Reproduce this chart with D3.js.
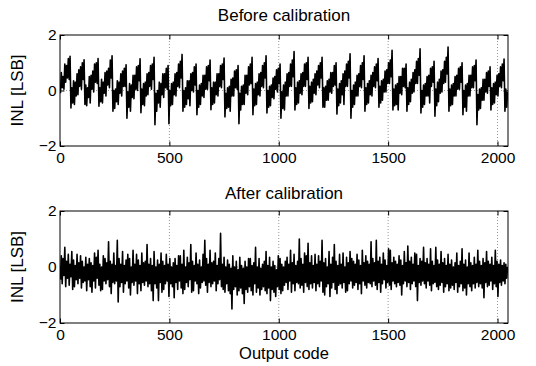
<!DOCTYPE html>
<html>
<head>
<meta charset="utf-8">
<script src="https://cdn.jsdelivr.net/npm/d3@7"></script>
<style>
  body { margin: 0; background: #fff; }
  text { font-family: "Liberation Sans", Arial, Helvetica, sans-serif; fill: #000; }
</style>
</head>
<body>
<svg id="chart" width="536" height="366"></svg>
<script>
const BIN = 8;
const xTicks = [0, 500, 1000, 1500, 2000];
const yTicks = [-2, 0, 2];
const titles = ["Before calibration", "After calibration"];
const yLabel = "INL [LSB]";
const xLabel = "Output code";

const beforeLo = [
  -0.1, 0.1, 0.05, 0.3, 0.45, 0.4,
  -0.63, -0.45, -0.5, -0.2, -0.15, 0.15, 0.05, 0.4,
  -0.5, -0.55, -0.25, -0.45, 0.05, -0.05, 0.3, 0.25,
  -0.57, -0.4, -0.45, -0.1, -0.2, 0.2, 0.1, 0.45,
  -0.75, -0.65, -0.4, -0.5, -0.1, -0.2, 0.15, 0.15,
  -1.0, -0.6, -0.75, -0.25, -0.3, 0.05, 0.0, 0.35,
  -0.8, -0.5, -0.55, -0.2, -0.15, 0.15, 0.05, 0.4,
  -1.23, -0.75, -0.45, -0.6, -0.15, -0.25, 0.1, 0.05,
  -1.2, -0.55, -0.5, -0.15, -0.2, 0.15, 0.1, 0.45,
  -0.75, -0.6, -0.5, -0.3, -0.55, 0.0, -0.05, 0.2,
  -0.87, -0.6, -0.5, -0.2, -0.25, 0.05, 0.05, 0.35,
  -0.69, -0.5, -0.45, -0.15, -0.2, 0.15, 0.1, 0.4,
  -0.95, -0.65, -0.6, -0.75, -0.2, -0.2, 0.1, 0.05,
  -1.2, -0.7, -0.5, -0.5, -0.1, -0.15, 0.2, 0.25,
  -0.87, -0.55, -0.5, -0.15, -0.2, 0.15, 0.1, 0.45,
  -0.81, -0.6, -0.55, -0.25, -0.3, 0.05, -0.05, 0.25,
  -1.0, -0.65, -0.7, -0.2, -0.2, 0.15, 0.15, 0.5,
  -0.7, -0.5, -0.45, -0.1, -0.15, 0.15, 0.15, 0.4,
  -0.65, -0.45, -0.4, -0.1, -0.15, 0.2, 0.1, 0.45,
  -0.6, -0.6, -0.35, -0.35, -0.05, -0.1, 0.15, 0.2,
  -0.85, -0.55, -0.45, -0.15, -0.5, 0.15, 0.15, 0.45,
  -1.0, -0.6, -0.5, -0.2, -0.2, 0.15, 0.1, 0.4,
  -0.75, -0.5, -0.45, -0.15, -0.2, 0.15, 0.1, 0.35,
  -0.6, -0.45, -0.35, -0.05, -0.05, 0.25, 0.25, 0.5,
  -0.7, -0.55, -0.5, -0.7, -0.1, -0.15, 0.15, 0.1,
  -0.75, -0.5, -0.4, -0.1, -0.05, 0.25, 0.25, 0.55,
  -0.81, -0.6, -0.5, -0.2, -0.2, -0.45, 0.15, 0.3,
  -0.93, -0.55, -0.4, -0.1, -0.05, 0.25, 0.3, 0.6,
  -0.75, -0.55, -0.5, -0.2, -0.2, 0.05, 0.05, 0.3,
  -0.87, -0.6, -0.75, -0.2, -0.2, 0.1, 0.1, 0.35,
  -1.23, -0.7, -0.65, -0.35, -0.35, -0.05, -0.1, 0.15,
  -0.7, -0.5, -0.45, -0.15, -0.2, 0.15, 0.1, 0.35,
  -0.75, -0.6
];
const beforeHi = [
  0.65, 0.5, 0.95, 0.9, 1.15, 1.23,
  0.1, 0.35, 0.3, 0.6, 0.75, 0.85, 1.0, 1.11,
  0.2, 0.1, 0.5, 0.55, 0.7, 0.95, 1.0, 1.15,
  0.1, 0.4, 0.3, 0.65, 0.7, 0.8, 1.1, 1.25,
  0.0, 0.05, 0.35, 0.3, 0.6, 0.7, 0.8, 0.93,
  -0.05, 0.25, 0.2, 0.55, 0.55, 0.85, 0.9, 1.14,
  0.05, 0.25, 0.3, 0.6, 0.65, 0.9, 0.95, 1.2,
  -0.1, 0.0, 0.3, 0.25, 0.6, 0.6, 0.8, 0.9,
  0.0, 0.25, 0.3, 0.6, 0.65, 0.95, 1.05, 1.3,
  0.0, 0.1, 0.35, 0.35, 0.6, 0.65, 0.85, 0.95,
  0.0, 0.2, 0.25, 0.55, 0.55, 0.85, 0.9, 1.1,
  0.1, 0.3, 0.3, 0.6, 0.6, 0.9, 0.95, 1.17,
  -0.1, 0.1, 0.15, 0.4, 0.45, 0.7, 0.75, 0.9,
  -0.1, 0.15, 0.2, 0.55, 0.55, 0.85, 0.95, 1.2,
  0.05, 0.25, 0.3, 0.6, 0.65, 0.9, 1.0, 1.25,
  0.0, 0.15, 0.2, 0.45, 0.5, 0.75, 0.8, 0.95,
  -0.05, 0.2, 0.3, 0.6, 0.65, 0.95, 1.1, 1.4,
  0.1, 0.3, 0.35, 0.6, 0.65, 0.95, 1.0, 1.2,
  0.15, 0.3, 0.4, 0.6, 0.7, 0.9, 1.0, 1.2,
  0.1, 0.15, 0.35, 0.4, 0.65, 0.65, 0.9, 1.0,
  0.05, 0.25, 0.35, 0.6, 0.7, 0.95, 1.05, 1.32,
  0.0, 0.2, 0.3, 0.55, 0.6, 0.9, 1.0, 1.25,
  0.1, 0.25, 0.35, 0.55, 0.65, 0.85, 0.95, 1.15,
  0.15, 0.35, 0.4, 0.7, 0.75, 1.0, 1.1, 1.45,
  0.05, 0.2, 0.25, 0.5, 0.5, 0.8, 0.8, 0.95,
  0.1, 0.3, 0.4, 0.65, 0.75, 1.05, 1.15, 1.5,
  0.0, 0.2, 0.25, 0.5, 0.55, 0.8, 0.85, 1.05,
  0.05, 0.3, 0.4, 0.7, 0.75, 1.05, 1.2, 1.57,
  0.05, 0.2, 0.25, 0.5, 0.55, 0.8, 0.85, 1.0,
  0.0, 0.2, 0.25, 0.55, 0.55, 0.85, 0.9, 1.1,
  -0.15, 0.05, 0.1, 0.4, 0.4, 0.65, 0.7, 0.85,
  0.1, 0.25, 0.3, 0.55, 0.6, 0.85, 0.95, 1.13,
  0.05, -0.05
];

const afterLo = [
  -0.45, -0.6, -0.3, -0.7, -0.4, -0.65, -0.35, -0.8, -0.7, -0.45, -0.6, -0.4, -0.75, -0.55, -0.5, -0.85,
  -0.45, -0.7, -0.9, -0.5, -0.75, -0.4, -0.65, -0.85, -0.8, -0.5, -0.6, -0.45, -0.7, -0.95, -0.55, -0.6,
  -0.5, -1.25, -0.7, -0.55, -0.9, -0.6, -0.5, -0.75, -1.0, -0.55, -0.65, -0.5, -0.95, -0.6, -0.85, -0.55,
  -0.65, -0.5, -0.7, -0.6, -0.85, -1.2, -0.6, -0.75, -1.2, -0.55, -0.9, -0.8, -0.6, -0.5, -1.05, -0.6,
  -0.7, -1.1, -0.55, -0.8, -0.5, -0.75, -0.95, -0.8, -0.55, -0.7, -0.45, -0.9, -0.85, -0.5, -0.6, -0.95,
  -0.75, -0.55, -0.5, -0.65, -0.9, -0.55, -0.7, -0.6, -0.5, -0.85, -0.6, -0.45, -0.7, -0.8, -0.9, -0.6,
  -0.85, -0.95, -1.5, -0.8, -0.7, -1.0, -0.85, -0.75, -0.95, -1.3, -0.8, -0.9, -0.7, -0.85, -1.0, -0.6,
  -0.9, -0.75, -1.0, -0.8, -0.7, -0.85, -0.95, -0.75, -1.2, -0.8, -0.9, -1.05, -0.7, -0.8, -0.95, -0.85,
  -0.65, -0.55, -0.8, -0.5, -0.9, -0.6, -0.85, -0.55, -0.6, -0.75, -0.65, -0.9, -0.55, -0.7, -0.8, -0.6,
  -0.75, -0.55, -0.85, -0.6, -0.7, -0.5, -0.9, -1.0, -0.7, -0.6, -1.05, -0.75, -0.55, -0.8, -0.95, -0.65,
  -0.6, -0.75, -0.55, -0.9, -0.85, -0.6, -0.5, -0.75, -0.65, -0.55, -0.8, -0.6, -0.95, -0.5, -0.65, -0.75,
  -0.55, -0.6, -0.7, -0.5, -0.65, -0.8, -0.55, -0.9, -0.6, -0.45, -0.75, -0.55, -0.65, -0.8, -0.5, -0.6,
  -0.7, -0.55, -0.65, -1.0, -0.6, -0.5, -0.7, -0.55, -0.8, -0.6, -0.5, -0.7, -1.2, -0.55, -0.65, -0.5,
  -0.6, -0.75, -0.5, -0.65, -0.85, -0.6, -0.55, -0.7, -0.8, -0.65, -0.55, -0.9, -0.7, -0.6, -0.85, -0.75,
  -0.65, -0.8, -0.55, -0.9, -0.7, -0.6, -0.85, -0.75, -1.0, -0.6, -0.7, -0.85, -0.6, -0.75, -0.55, -0.7,
  -0.6, -0.75, -1.1, -0.55, -0.7, -0.65, -0.5, -0.8, -0.6, -0.7, -1.05, -0.55, -0.65, -0.5, -0.6, -0.4
];
const afterHi = [
  0.4, 0.3, 0.7, 0.2, 0.45, 0.1, 0.55, 0.25, 0.05, 0.45, 0.15, 0.4, 0.2, 0.0, 0.35, 0.1,
  0.3, 0.15, 0.05, 0.5, 0.35, 0.6, 0.1, 0.0, 0.4, 0.3, 0.15, 0.9, 0.2, 0.1, 0.5, 0.05,
  0.95, 0.3, 0.1, 0.55, 0.05, 0.25, 0.45, 0.3, 0.0, 0.6, 0.1, 0.45, 0.25, 0.05, 0.5, 0.15,
  0.2, 0.8, 0.1, 0.3, 0.05, 0.55, 0.0, 0.25, 0.1, 0.5, 0.2, 0.05, 0.45, 0.1, 0.3, 0.0,
  0.15, 0.3, 0.05, 0.4, 0.4, 0.1, 0.6, 0.0, 0.35, 0.15, 0.8, 0.2, 0.05, 0.5, 0.1, 0.25,
  0.0, 0.45, 0.95, 0.3, 0.1, 0.6, 0.15, 0.2, 0.5, 0.05, 0.3, 1.2, 0.1, 0.35, 0.0, 0.25,
  0.1, -0.05, 0.4, 0.0, 0.2, -0.1, 0.35, 0.05, -0.05, 0.2, 0.0, 0.3, 0.3, 0.05, 0.15, 0.7,
  0.0, 0.3, -0.05, 0.1, 0.2, 0.55, 0.05, 0.35, 0.0, 0.2, 0.05, -0.1, 0.4, 0.3, 0.1, 0.0,
  0.2, 0.35, 0.1, 0.6, 0.15, 0.45, 0.05, 0.2, 1.0, 0.3, 0.1, 0.5, 0.4, 0.85, 0.15, 0.4,
  0.05, 0.45, 0.1, 0.4, 0.2, 0.95, 0.15, 0.3, 0.0, 0.55, 0.1, 0.35, 0.8, 0.2, 0.05, 0.45,
  0.1, 0.5, 0.0, 0.35, 0.15, 0.55, 0.3, 0.2, 0.1, 0.45, 0.25, 0.05, 0.6, 0.15, 0.4, 0.2,
  0.1, 0.9, 0.3, 0.15, 0.95, 0.2, 0.35, 0.1, 0.5, 0.25, 0.05, 0.65, 0.6, 0.15, 0.35, 0.2,
  0.1, 0.4, 0.25, 0.05, 0.55, 0.15, 0.75, 0.2, 0.35, 0.1, 0.5, 0.45, 0.05, 0.3, 0.2, 0.7,
  0.15, 0.3, 0.1, 0.65, 0.2, 0.05, 0.7, 0.25, 0.1, 0.55, 0.15, 0.3, 0.05, 0.45, 0.1, 0.25,
  0.0, 0.15, 0.5, 0.05, 0.2, 0.65, 0.1, 0.25, 0.0, 0.5, 0.15, 0.05, 0.35, 0.1, 0.6, 0.2,
  0.05, 0.3, 0.15, 0.55, 0.2, 0.1, 0.35, 0.05, 0.6, 0.2, 0.1, 0.25, 0.05, 0.15, 0.1, 0.0
];

const svg = d3.select("#chart");
const LEFT = 60, RIGHT = 508;
const TICK = 4.5;

const panels = [
  { title: titles[0], lo: beforeLo, hi: beforeHi, top: 35, bottom: 146, titleY: 21 },
  { title: titles[1], lo: afterLo, hi: afterHi, top: 211, bottom: 323, titleY: 199 }
];

const x = d3.scaleLinear().domain([0, 2048]).range([LEFT, RIGHT]);

// each bin -> two points: its minimum then its maximum
const toPoints = (lo, hi) => lo.flatMap((v, i) => [
  { code: i * BIN + 2, v: v },
  { code: i * BIN + 6, v: hi[i] }
]);

panels.forEach((p, k) => {
  const y = d3.scaleLinear().domain([-2, 2]).range([p.bottom, p.top]);
  const g = svg.append("g");

  // dotted grid
  g.selectAll(".gx").data(xTicks.filter(t => t > 0)).enter().append("line")
    .attr("x1", d => x(d)).attr("x2", d => x(d))
    .attr("y1", p.top).attr("y2", p.bottom)
    .attr("stroke", "#999").attr("stroke-width", 1).attr("stroke-dasharray", "1,2");
  g.append("line")
    .attr("x1", LEFT).attr("x2", RIGHT)
    .attr("y1", y(0)).attr("y2", y(0))
    .attr("stroke", "#999").attr("stroke-width", 1).attr("stroke-dasharray", "1,2");

  // clip for the trace
  const clipId = "clip" + k;
  svg.append("clipPath").attr("id", clipId).append("rect")
    .attr("x", LEFT).attr("y", p.top)
    .attr("width", RIGHT - LEFT).attr("height", p.bottom - p.top);

  const line = d3.line().x(d => x(d.code)).y(d => y(d.v));
  g.append("path")
    .datum(toPoints(p.lo, p.hi))
    .attr("clip-path", `url(#${clipId})`)
    .attr("fill", "none")
    .attr("stroke", "#000")
    .attr("stroke-width", 1.6)
    .attr("stroke-linejoin", "round")
    .attr("d", line);

  // axes, ticks pointing inward
  const axB = g.append("g").attr("transform", `translate(0,${p.bottom})`)
    .call(d3.axisBottom(x).tickValues(xTicks).tickSize(-TICK).tickPadding(6).tickFormat(d3.format("d")));
  const axT = g.append("g").attr("transform", `translate(0,${p.top})`)
    .call(d3.axisTop(x).tickValues(xTicks).tickSize(-TICK).tickFormat(""));
  const axL = g.append("g").attr("transform", `translate(${LEFT},0)`)
    .call(d3.axisLeft(y).tickValues(yTicks).tickSize(-TICK).tickPadding(3.5).tickFormat(d3.format("d")));
  const axR = g.append("g").attr("transform", `translate(${RIGHT},0)`)
    .call(d3.axisRight(y).tickValues(yTicks).tickSize(-TICK).tickFormat(""));
  [axB, axT, axL, axR].forEach(a => {
    a.select(".domain").remove();
    a.selectAll(".tick line").attr("stroke", "#000");
    a.selectAll("text").attr("font-size", 15.5).attr("fill", "#000")
      .style("font-family", '"Liberation Sans", Arial, sans-serif');
  });

  // box
  g.append("rect")
    .attr("x", LEFT).attr("y", p.top)
    .attr("width", RIGHT - LEFT).attr("height", p.bottom - p.top)
    .attr("fill", "none").attr("stroke", "#000").attr("stroke-width", 1);

  g.append("text")
    .attr("x", (LEFT + RIGHT) / 2).attr("y", p.titleY)
    .attr("text-anchor", "middle").attr("font-size", 17)
    .text(p.title);

  g.append("text")
    .attr("transform", `translate(23,${(p.top + p.bottom) / 2}) rotate(-90)`)
    .attr("text-anchor", "middle").attr("font-size", 17)
    .text(yLabel);
});

svg.append("text")
  .attr("x", (LEFT + RIGHT) / 2).attr("y", 359)
  .attr("text-anchor", "middle").attr("font-size", 16.5)
  .text(xLabel);
</script>
</body>
</html>
